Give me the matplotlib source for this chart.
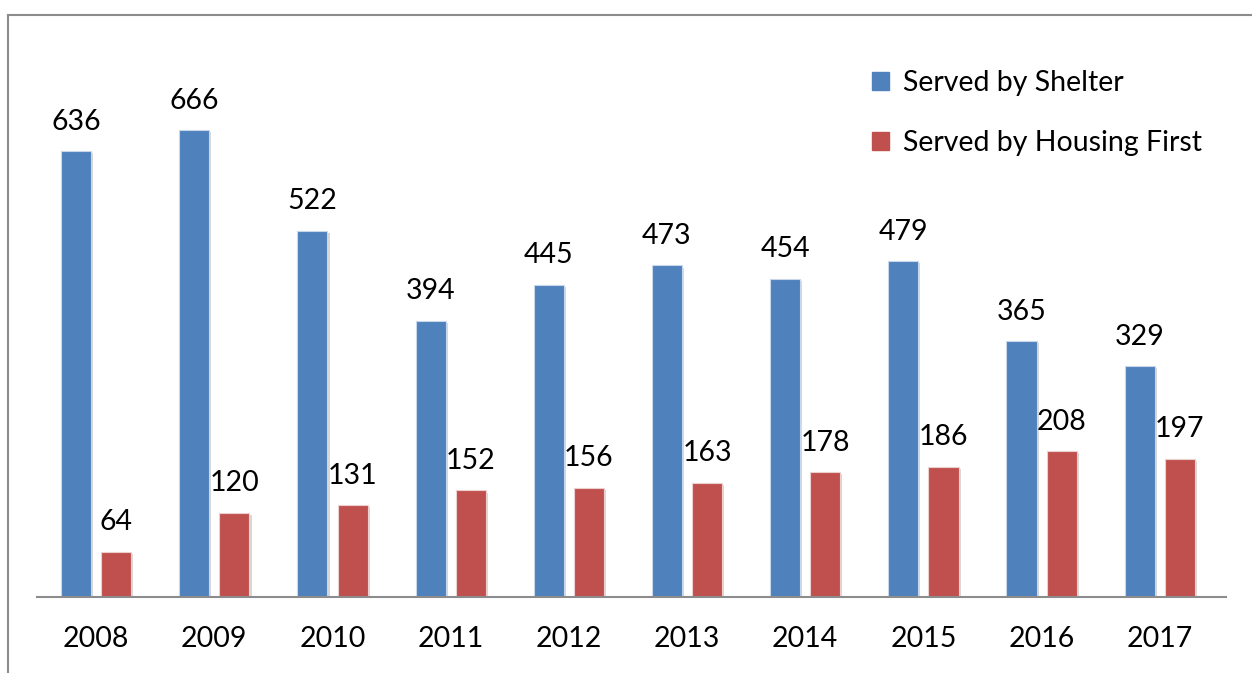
import matplotlib.pyplot as plt
import matplotlib.patheffects as pe
from matplotlib.patches import Patch
from matplotlib.lines import Line2D
import numpy as np

plt.rcParams['font.family'] = ['Lato', 'DejaVu Sans']

years = ['2008', '2009', '2010', '2011', '2012', '2013', '2014', '2015', '2016', '2017']
shelter = [636, 666, 522, 394, 445, 473, 454, 479, 365, 329]
housing_first = [64, 120, 131, 152, 156, 163, 178, 186, 208, 197]

blue = '#4F81BD'
red = '#C0504D'

fig = plt.figure(figsize=(12.52, 6.73), dpi=100)
ax = fig.add_axes([37 / 1252, 76 / 673, 1189 / 1252, 567 / 673])

x = np.arange(len(years))
w = 0.255
off = 0.17
shadow = [pe.SimplePatchShadow(offset=(1.5, -1.5), shadow_rgbFace='#b0b0b0', alpha=0.5), pe.Normal()]
b1 = ax.bar(x - off, shelter, w, color=blue, edgecolor='#c9d7ea', linewidth=0.8, path_effects=shadow)
b2 = ax.bar(x + off, housing_first, w, color=red, edgecolor='#ecd0cf', linewidth=0.8, path_effects=shadow)

for bars in (b1, b2):
    for r in bars:
        ax.annotate(f'{int(r.get_height())}', (r.get_x() + r.get_width() / 2, r.get_height()),
                    xytext=(0, 12), textcoords='offset points', ha='center', va='bottom', fontsize=20.5)

ax.set_xlim(-0.5, 9.56)
ax.set_ylim(0, 809)
ax.set_xticks(x)
ax.set_xticklabels(years, fontsize=20.5)
ax.tick_params(axis='x', length=0, pad=21)
ax.set_yticks([])
for s in ('top', 'right', 'left'):
    ax.spines[s].set_visible(False)
ax.spines['bottom'].set_color('#8c8c8c')
ax.spines['bottom'].set_linewidth(1.5)

handles = [Patch(color=blue), Patch(color=red)]
fig.legend(handles, ['Served by Shelter', 'Served by Housing First'], loc='upper left',
           bbox_to_anchor=(846 / 1252, 1 - 44 / 673), frameon=False, fontsize=20.5,
           handlelength=0.6, handleheight=0.6, handletextpad=0.5, labelspacing=1.2)

# outer frame of the (cropped) chart area
fig.add_artist(Line2D([8 / 1252, 8 / 1252], [0, 1 - 15 / 673], color='#8c8c8c', linewidth=1.5))
fig.add_artist(Line2D([8 / 1252, 1], [1 - 15 / 673, 1 - 15 / 673], color='#8c8c8c', linewidth=1.5))

fig.savefig('out.png', dpi=100)
plt.close(fig)
